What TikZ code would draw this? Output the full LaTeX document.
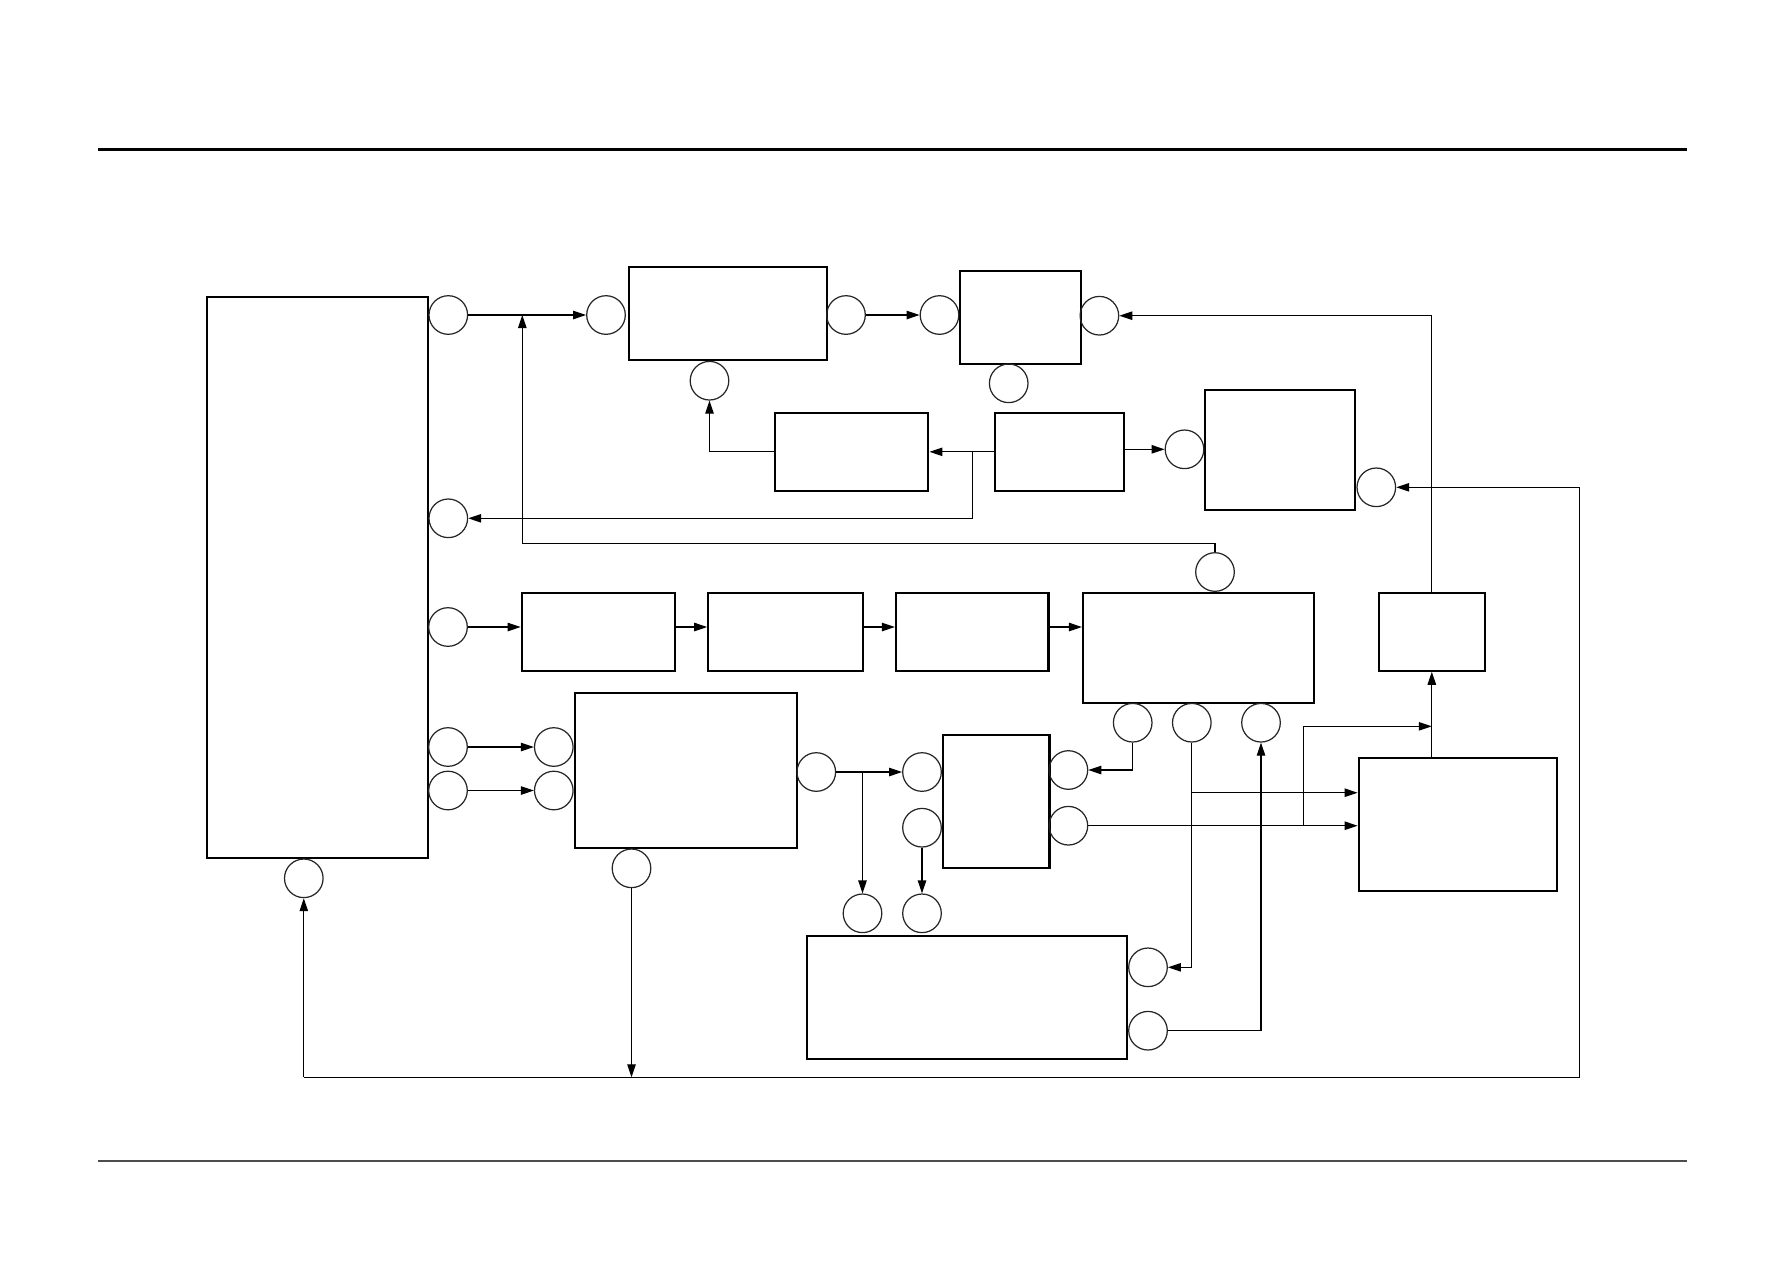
\documentclass[tikz,border=0pt]{standalone}
\usepackage{tikz}
\usetikzlibrary{arrows.meta}

\begin{document}
\begin{tikzpicture}[
    blk/.style={draw, line width=0.6pt, inner sep=0pt},
    port/.style={draw, circle, line width=0.35pt, black!85, minimum size=0.386cm, inner sep=0pt},
    sig/.style={line width=0.35pt, -{Triangle[length=3.7pt,width=2.4pt]}},
    wire/.style={line width=0.35pt}]

    \useasboundingbox (0,0) rectangle (17.87,-12.63);

    % page rules
    \draw[line width=0.85pt] (0.98,-1.493) -- (16.87,-1.493);
    \draw[line width=0.4pt, black!70] (0.98,-11.61) -- (16.87,-11.61);

    % blocks, top rows
    \node[blk, minimum width=2.213cm, minimum height=5.61cm] (A) at (3.173,-5.775) {};
    \node[blk, minimum width=1.98cm, minimum height=0.93cm] (B) at (7.28,-3.132) {};
    \node[blk, minimum width=1.213cm, minimum height=0.93cm] (C) at (10.203,-3.178) {};
    \node[blk, minimum width=1.534cm, minimum height=0.777cm] (D) at (8.517,-4.518) {};
    \node[blk, minimum width=1.287cm, minimum height=0.777cm] (E) at (10.597,-4.518) {};
    \node[blk, minimum width=1.503cm, minimum height=1.203cm] (F) at (12.798,-4.498) {};

    % blocks, middle row
    \node[blk, minimum width=1.536cm, minimum height=0.78cm] (G) at (5.985,-6.317) {};
    \node[blk, minimum width=1.545cm, minimum height=0.78cm] (H) at (7.855,-6.317) {};
    \node[blk, minimum width=1.525cm, minimum height=0.78cm] (I) at (9.722,-6.317) {};
    \node[blk, minimum width=2.31cm, minimum height=1.10cm] (J) at (11.985,-6.477) {};
    \node[blk, minimum width=1.063cm, minimum height=0.78cm] (K) at (14.318,-6.317) {};

    % blocks, lower part
    \node[blk, minimum width=2.219cm, minimum height=1.547cm] (L) at (6.857,-7.703) {};
    \node[blk, minimum width=1.066cm, minimum height=1.327cm] (M) at (9.962,-8.013) {};
    \node[blk, minimum width=1.983cm, minimum height=1.327cm] (N) at (14.578,-8.246) {};
    \node[blk, minimum width=3.196cm, minimum height=1.236cm] (O) at (9.672,-9.975) {};

    % ports
    \node[port] (p1) at (4.483,-3.15) {};
    \node[port] (p2) at (6.06,-3.15) {};
    \node[port] (p3) at (7.095,-3.807) {};
    \node[port] (p4) at (8.46,-3.15) {};
    \node[port] (p5) at (9.395,-3.15) {};
    \node[port] (p6) at (10.087,-3.833) {};
    \node[port] (p7) at (10.994,-3.157) {};
    \node[port] (p8) at (11.845,-4.493) {};
    \node[port] (p9) at (13.763,-4.873) {};
    \node[port] (p10) at (4.483,-5.183) {};
    \node[port] (p11) at (12.15,-5.72) {};
    \node[port] (p12) at (4.48,-6.27) {};
    \node[port] (p13) at (4.48,-7.47) {};
    \node[port] (p14) at (4.48,-7.905) {};
    \node[port] (p15) at (5.538,-7.47) {};
    \node[port] (p16) at (5.538,-7.905) {};
    \node[port] (p17) at (8.163,-7.72) {};
    \node[port] (p18) at (6.315,-8.683) {};
    \node[port] (p19) at (3.038,-8.783) {};
    \node[port] (p20) at (9.22,-7.72) {};
    \node[port] (p21) at (9.22,-8.277) {};
    \node[port] (p22) at (10.684,-7.70) {};
    \node[port] (p23) at (10.684,-8.257) {};
    \node[port] (p24) at (11.327,-7.227) {};
    \node[port] (p25) at (11.918,-7.227) {};
    \node[port] (p26) at (12.61,-7.227) {};
    \node[port] (p27) at (8.625,-9.133) {};
    \node[port] (p28) at (9.22,-9.133) {};
    \node[port] (p29) at (11.48,-9.673) {};
    \node[port] (p30) at (11.48,-10.307) {};

    % top path
    \draw[sig] (p1) -- (p2);
    \draw[sig] (p4) -- (p5);
    \draw[sig] (K.north) |- (p7);
    \coordinate (fbA) at (5.223,-5.433);
    \coordinate (fbB) at (5.223,-3.15);
    \draw[sig] (p11.north) |- (fbA) -- (fbB);

    % second row
    \draw[sig] (E) -- (D);
    \draw[sig] (D.west) -| (p3);
    \coordinate (tapE) at (9.724,-4.518);
    \draw[sig] (tapE) |- (p10);
    \draw[sig] (E.east |- p8) -- (p8);

    % middle row chain
    \draw[sig] (p12) -- (p12 -| G.west);
    \draw[sig] (G.east |- p12) -- (H.west |- p12);
    \draw[sig] (H.east |- p12) -- (I.west |- p12);
    \draw[sig] (I.east |- p12) -- (J.west |- p12);

    % lower part
    \draw[sig] (p13) -- (p15);
    \draw[sig] (p14) -- (p16);
    \draw[sig] (p17) -- (p20);
    \draw[sig] (p27 |- p17) -- (p27);
    \draw[sig] (p21) -- (p28);
    \draw[sig] (p24.south) |- (p22);
    \draw[sig] (p25.south) |- (p29);
    \coordinate (lvl1) at (0,-7.927);
    \draw[sig] (p25 |- lvl1) -- (N.west |- lvl1);
    \draw[sig] (p23) -- (p23 -| N.west);
    \coordinate (tapM) at (13.036,-8.257);
    \coordinate (lvl2) at (0,-7.263);
    \draw[sig] (tapM) |- (K.south |- lvl2);
    \draw[sig] (K.south |- N.north) -- (K.south);
    \draw[sig] (p30) -| (p26);

    % bottom return
    \coordinate (busL) at (3.038,-10.773);
    \coordinate (busR) at (15.796,-10.773);
    \draw[sig] (p18) -- (p18 |- busL);
    \draw[wire] (busL) -- (busR);
    \draw[sig] (busL) -- (p19);
    \draw[sig] (busR) |- (p9);

\end{tikzpicture}
\end{document}
